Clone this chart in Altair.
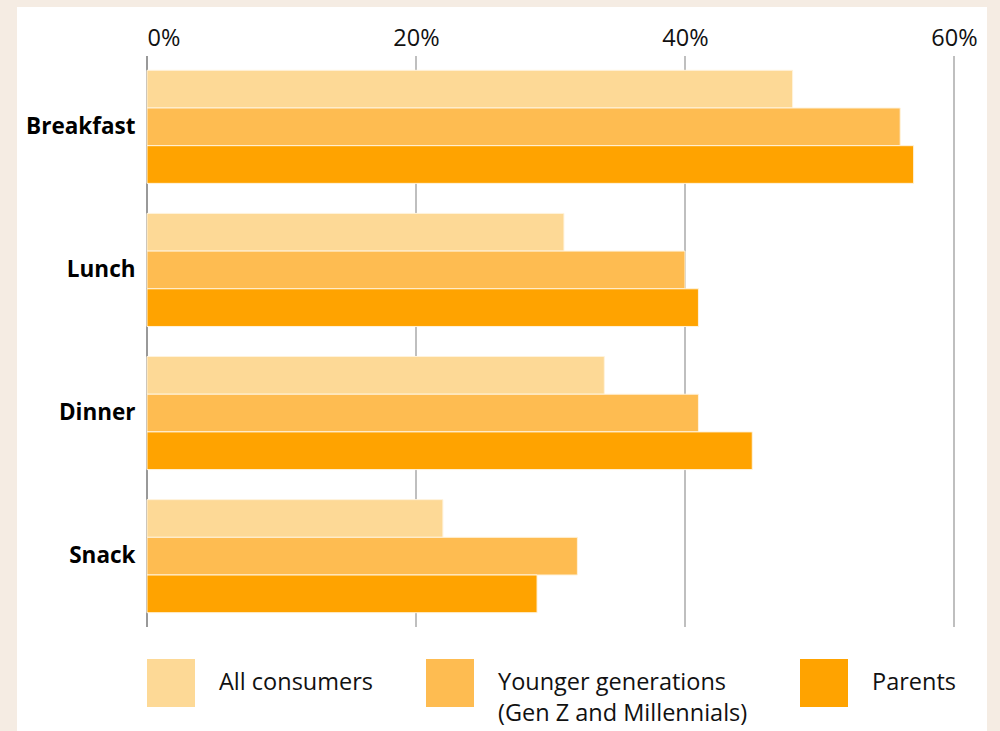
import altair as alt
import pandas as pd

meals = ["Breakfast", "Lunch", "Dinner", "Snack"]
groups = ["All consumers", "Younger generations (Gen Z and Millennials)", "Parents"]
all_consumers = [48, 31, 34, 22]
younger = [56, 40, 41, 32]
parents = [57, 41, 45, 29]
x_ticks = [0, 20, 40, 60]
colors = ["#FDD996", "#FEBC51", "#FFA300"]

rows = []
for i, m in enumerate(meals):
    for g, vals in zip(groups, [all_consumers, younger, parents]):
        rows.append({"meal": m, "group": g, "value": vals[i]})
df = pd.DataFrame(rows)
ticks_df = pd.DataFrame({"tick": x_ticks})

FONT = "Open Sans"
FS = 23.5

xscale = alt.Scale(domain=[0, 60], nice=False)

panel = alt.Chart(pd.DataFrame({"a": [0]})).mark_rect(color="white").encode(
    x=alt.value(-130), x2=alt.value(840), y=alt.value(-49), y2=alt.value(700)
)

grid = alt.Chart(ticks_df).mark_rule(strokeWidth=1.5).encode(
    x=alt.X("tick:Q", scale=xscale),
    color=alt.condition("datum.tick == 0", alt.value("#777777"), alt.value("#AAAAAA")),
)

bars = alt.Chart(df).mark_bar(stroke="#FFF3DC", strokeWidth=1).encode(
    x=alt.X("value:Q",
            scale=xscale,
            axis=alt.Axis(orient="top", values=x_ticks, title=None,
                          labelExpr="datum.value + '%'",
                          labelFontSize=FS, labelFont=FONT, labelColor="#111",
                          labelPadding=6, ticks=False, domain=False, grid=False,
                          zindex=2,
                          labelAlign=alt.condition("datum.value == 0", alt.value("left"), alt.value("center")))),
    y=alt.Y("meal:N", sort=meals,
            scale=alt.Scale(paddingInner=0.21, paddingOuter=0.1),
            axis=alt.Axis(title=None, ticks=False, domain=False, labelFontSize=FS - 1,
                          labelFont=FONT, labelFontWeight="bold", labelColor="#000",
                          labelPadding=12, zindex=2)),
    yOffset=alt.YOffset("group:N", sort=groups, scale=alt.Scale(paddingInner=0, paddingOuter=0)),
    color=alt.Color("group:N", sort=groups,
                    scale=alt.Scale(domain=groups, range=colors),
                    legend=alt.Legend(orient="none", legendX=-10, legendY=593,
                                      direction="horizontal", title=None,
                                      symbolType="square", symbolSize=2304,
                                      symbolStrokeWidth=20, symbolStrokeColor="rgba(0,0,0,0)",
                                      symbolOpacity=1,
                                      labelFontSize=FS, labelFont=FONT, labelColor="#111",
                                      labelOffset=14, columnPadding=12,
                                      labelLimit=400,
                                      labelExpr="datum.label == 'Younger generations (Gen Z and Millennials)' ? ['Younger generations', '(Gen Z and Millennials)'] : datum.label")),
)

chart = alt.layer(panel, grid, bars).properties(
    width=807, height=571,
    background="#F5ECE3",
    padding={"left": 147, "top": 56, "right": 46, "bottom": 104},
    autosize=alt.AutoSizeParams(type="none"),
).configure_view(stroke=None, fill="white").configure(
    style={"guide-label": {"lineHeight": 31}}
)

chart.save("out.html", embed_options={"renderer": "svg", "actions": False})
